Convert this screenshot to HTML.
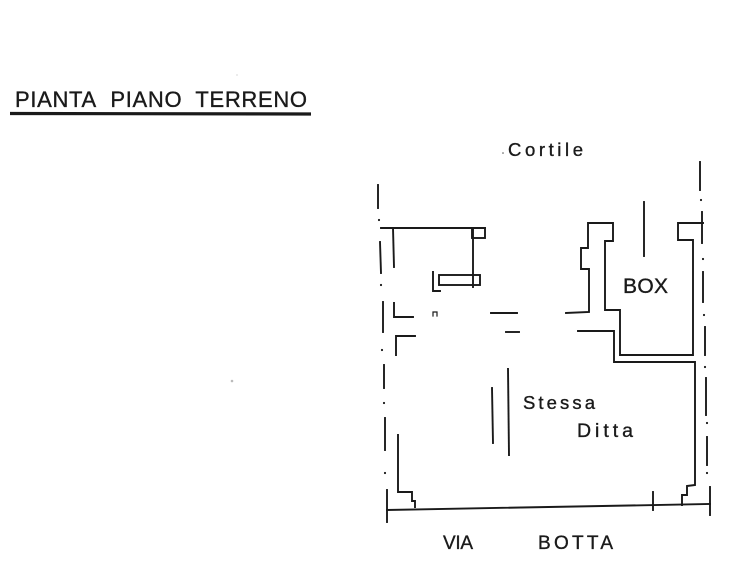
<!DOCTYPE html>
<html><head><meta charset="utf-8"><style>
html,body{margin:0;padding:0;background:#fff;}
svg{display:block;}
text{font-family:"Liberation Sans",sans-serif;fill:#1a1a1a;stroke:#1a1a1a;stroke-width:0.35;white-space:pre;}
</style></head><body>
<svg width="753" height="587" viewBox="0 0 753 587" xmlns="http://www.w3.org/2000/svg">
<rect width="753" height="587" fill="#fff"/>
<!-- title -->
<text x="15" y="107" font-size="22" textLength="292" lengthAdjust="spacing">PIANTA&#160; PIANO&#160; TERRENO</text>
<line x1="10" y1="113.5" x2="311" y2="114" stroke="#1a1a1a" stroke-width="3.2"/>
<circle cx="237" cy="75" r="0.6" fill="#bbb"/>
<circle cx="232" cy="381" r="1.3" fill="#bbb"/>

<text x="508" y="156" font-size="18.5" textLength="75" lengthAdjust="spacing">Cortile</text>
<circle cx="503" cy="153" r="0.8" fill="#555"/>
<text x="623" y="293" font-size="21" textLength="45" lengthAdjust="spacing">BOX</text>
<text x="523" y="409" font-size="18.5" textLength="72" lengthAdjust="spacing">Stessa</text>
<text x="577" y="437" font-size="19.5" textLength="56" lengthAdjust="spacing">Ditta</text>
<text x="443" y="549" font-size="19" textLength="30" lengthAdjust="spacing">VIA</text>
<text x="538" y="549" font-size="19" textLength="75" lengthAdjust="spacing">BOTTA</text>

<g stroke="#1a1a1a" stroke-width="1.9" fill="none" stroke-linecap="square" stroke-linejoin="miter">
<!-- left dash-dot -->
<line x1="378" y1="185" x2="378" y2="208"/>
<line x1="380" y1="242" x2="381" y2="273"/>
<line x1="383" y1="302" x2="383" y2="332"/>
<line x1="384" y1="365" x2="384" y2="388"/>
<line x1="385" y1="418" x2="385" y2="450"/>
<line x1="387" y1="490" x2="387" y2="522"/>
<!-- right dash-dot -->
<line x1="700" y1="162" x2="700" y2="190"/>
<line x1="702" y1="212" x2="702" y2="243"/>
<line x1="703" y1="272" x2="703" y2="302"/>
<line x1="705" y1="327" x2="705" y2="355"/>
<line x1="706" y1="378" x2="706" y2="415"/>
<line x1="707" y1="437" x2="707" y2="465"/>
<line x1="710" y1="487" x2="710" y2="515"/>

<!-- top-left rooms -->
<polyline points="381,228 485,228"/>
<rect x="472" y="228" width="13" height="10"/>
<line x1="473" y1="228" x2="473" y2="287"/>
<line x1="393" y1="228" x2="394" y2="267"/>
<rect x="439" y="275" width="41" height="10"/>
<polyline points="433,272 433,291 440,291"/>
<polyline points="394,303 394,317 413,317"/>
<line x1="491" y1="313" x2="517" y2="313"/>
<line x1="506" y1="332" x2="519" y2="332"/>
<polyline points="396,355 396,336 415,336"/>
<path d="M433,316 v-4 h4 v4" stroke-width="1.2"/>

<!-- BOX walls -->
<polyline points="566,313 589,312 589,269 581,269 581,248 588,248 588,223 613,223 613,241 605,241 605,310 620,310 620,355 693,355 693,240 678,240 678,223 703,223"/>
<polyline points="578,331 614,331 614,362 695,362 695,485 687,486 687,495 682,495 682,505"/>
<line x1="644" y1="202" x2="644" y2="256"/>

<!-- bottom-left wall -->
<polyline points="398,435 398,492 412,492 412,501 415,501 415,507"/>
<!-- baseline -->
<line x1="387" y1="510" x2="710" y2="504"/>
<line x1="653" y1="492" x2="653" y2="510"/>

<!-- stessa lines -->
<line x1="492" y1="388" x2="493" y2="443"/>
<line x1="508" y1="369" x2="509" y2="455"/>
</g>
<g fill="#1a1a1a">
<circle cx="379" cy="220" r="1.1"/>
<circle cx="381" cy="285" r="1.1"/>
<circle cx="382" cy="350" r="1.1"/>
<circle cx="384" cy="403" r="1.1"/>
<circle cx="385" cy="473" r="1.1"/>
<circle cx="701" cy="200" r="1.1"/>
<circle cx="703" cy="259" r="1.1"/>
<circle cx="704" cy="315" r="1.1"/>
<circle cx="705" cy="367" r="1.1"/>
<circle cx="707" cy="423" r="1.1"/>
<circle cx="707" cy="473" r="1.1"/>
</g>
</svg>
</body></html>
